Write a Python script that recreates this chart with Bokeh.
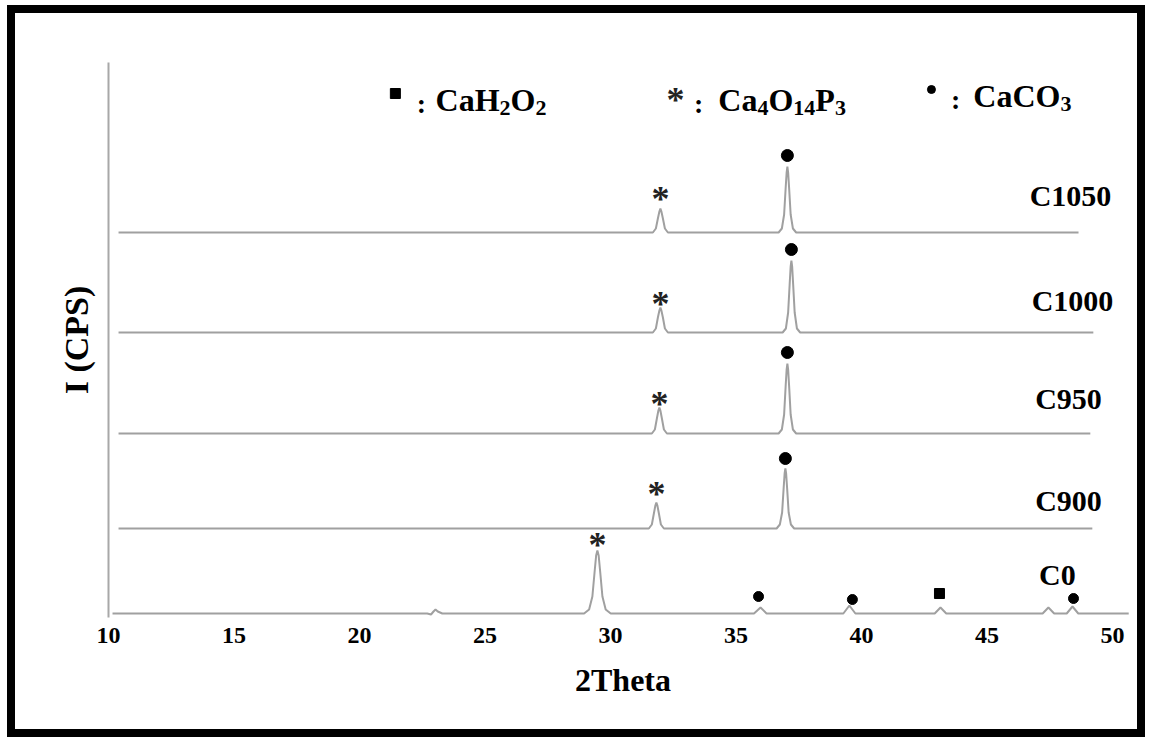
import math
from bokeh.plotting import figure
from bokeh.models import Range1d, FixedTicker, ColumnDataSource
from bokeh.core.properties import value
from bokeh.embed import file_html
from bokeh.resources import INLINE

FONT = "Liberation Serif"

# ---------------- data ----------------
x_ticks = [10, 15, 20, 25, 30, 35, 40, 45, 50]
samples = ["C0", "C900", "C950", "C1000", "C1050"]
offsets = [4, 89, 184, 285, 385]

c0_tt = [10.16, 22.70, 22.85, 22.95, 23.03, 23.12, 23.30, 28.95, 29.15, 29.28, 29.37, 29.43, 29.48,
         29.53, 29.59, 29.68, 29.81, 30.01, 35.72, 35.98, 36.22, 39.28, 39.52, 39.76, 42.92, 43.15,
         43.38, 47.22, 47.45, 47.68, 48.18, 48.41, 48.64, 50.65]
c0_int = [0, 0, -1, 2, 4, 2, 0, 0, 4, 17, 42, 58, 63, 58, 42, 17, 4, 0, 0, 6, 0, 0, 8, 0, 0, 6,
          0, 0, 6, 0, 0, 7, 0, 0]

c900_tt = [10.40, 31.53, 31.65, 31.73, 31.79, 31.83, 31.87, 31.93, 32.01, 32.13, 36.62, 36.75, 36.84,
           36.90, 36.94, 36.97, 37.00, 37.04, 37.10, 37.19, 37.32, 49.20]
c900_int = [0, 0, 4, 15, 23, 26, 23, 15, 4, 0, 0, 4, 16, 40, 55, 60, 55, 40, 16, 4, 0, 0]

c950_tt = [10.40, 31.65, 31.77, 31.85, 31.91, 31.95, 31.99, 32.05, 32.13, 32.25, 36.70, 36.83, 36.92,
           36.98, 37.02, 37.05, 37.08, 37.12, 37.18, 37.27, 37.40, 49.12]
c950_int = [0, 0, 4, 15, 23, 26, 23, 15, 4, 0, 0, 4, 19, 47, 64, 70, 64, 47, 19, 4, 0, 0]

c1000_tt = [10.40, 31.69, 31.81, 31.89, 31.95, 31.99, 32.03, 32.09, 32.17, 32.29, 36.86, 36.99, 37.08,
            37.14, 37.18, 37.21, 37.24, 37.28, 37.34, 37.43, 37.56, 49.24]
c1000_int = [0, 0, 4, 15, 22, 25, 22, 15, 4, 0, 0, 4, 20, 48, 66, 72, 66, 48, 20, 4, 0, 0]

c1050_tt = [10.40, 31.69, 31.81, 31.89, 31.95, 31.99, 32.03, 32.09, 32.17, 32.29, 36.70, 36.83, 36.92,
            36.98, 37.02, 37.05, 37.08, 37.12, 37.18, 37.27, 37.40, 48.65]
c1050_int = [0, 0, 4, 14, 21, 24, 21, 14, 4, 0, 0, 4, 18, 44, 60, 66, 60, 44, 18, 4, 0, 0]

# phase markers (2theta, position on the stacked scale)
star_tt = [29.48, 31.83, 31.95, 31.99, 31.99]          # Ca4O14P3
star_y = [79, 130, 220, 320, 425]
caco3_tt = [35.90, 39.64, 48.45, 36.97, 37.05, 37.21, 37.05]   # CaCO3
caco3_y = [21, 18, 19, 159, 265, 368, 462]
caco3_size = [10, 10, 10, 12, 12, 12, 12]
cah_tt = [43.11]                                         # CaH2O2
cah_y = [24]

# sample label positions
lab_tt = [47.81, 48.25, 48.25, 48.41, 48.33]
lab_y = [43, 117, 219, 317, 422]

# ---------------- figure ----------------
p = figure(width=1138, height=732, output_backend="svg", toolbar_location=None,
           x_range=Range1d(10, 51), y_range=Range1d(0, 555),
           min_border_left=93, min_border_right=16, min_border_top=49, min_border_bottom=128)
p.styles = {"border": "8px solid black", "margin-left": "7px", "margin-top": "5px"}
p.outline_line_color = None
p.xgrid.visible = False
p.ygrid.visible = False
p.background_fill_color = "white"
p.border_fill_color = "white"

p.xaxis.ticker = FixedTicker(ticks=x_ticks)
p.xaxis.axis_line_color = None
p.xaxis.major_tick_line_color = None
p.xaxis.minor_tick_line_color = None
p.xaxis.major_label_text_font = FONT
p.xaxis.major_label_text_font_style = "bold"
p.xaxis.major_label_text_font_size = "24px"
p.xaxis.major_label_text_color = "black"
p.xaxis.major_label_standoff = 4
p.xaxis.axis_label = "2Theta"
p.xaxis.axis_label_text_font = FONT
p.xaxis.axis_label_text_font_style = "bold"
p.xaxis.axis_label_text_font_size = "32px"
p.xaxis.axis_label_text_color = "black"
p.xaxis.axis_label_standoff = 16

p.yaxis.ticker = FixedTicker(ticks=[])
p.yaxis.axis_line_color = "#a8a8a8"
p.yaxis.axis_line_width = 2
p.yaxis.major_tick_line_color = None
p.yaxis.minor_tick_line_color = None
p.yaxis.major_label_text_font_size = "0px"
p.yaxis.axis_label = "I (CPS)"
p.yaxis.axis_label_text_font = FONT
p.yaxis.axis_label_text_font_style = "bold"
p.yaxis.axis_label_text_font_size = "34px"
p.yaxis.axis_label_text_color = "black"
p.yaxis.axis_label_standoff = 14

series = [(c0_tt, c0_int), (c900_tt, c900_int), (c950_tt, c950_int),
          (c1000_tt, c1000_int), (c1050_tt, c1050_int)]
for (tt, inten), off in zip(series, offsets):
    p.line(tt, [v + off for v in inten], line_color="#a0a0a0", line_width=2)

# markers
p.scatter(caco3_tt, caco3_y, size=caco3_size, marker="circle", fill_color="black", line_color="black")
p.scatter(cah_tt, cah_y, size=10, marker="square", fill_color="black", line_color="black")
p.text(star_tt, star_y, text=["*"] * len(star_tt), text_font=value(FONT), text_font_style="bold",
       text_font_size="36px", text_align="center", text_baseline="middle", y_offset=6,
       text_color="#222222")

# sample labels
p.text(lab_tt, lab_y, text=samples, text_font=value(FONT), text_font_style="bold",
       text_font_size="30px", text_align="center", text_baseline="middle", text_color="black")

# ---------------- legend (with subscripts) ----------------
W = {"C": 722, "a": 500, "H": 778, "O": 778, "P": 611}
MAIN, SUB = 32, 22

def seg_width(s, size):
    return sum(W.get(ch, 500) for ch in s) * size / 1000.0

legend_items = [
    ("square", 21.43, 22.47, 23.03, 518, [("CaH", 0), ("2", 1), ("O", 0), ("2", 1)]),
    ("star", 32.59, 33.51, 34.30, 518, [("Ca", 0), ("4", 1), ("O", 0), ("14", 1), ("P", 0), ("3", 1)]),
    ("dot", 42.79, 43.75, 44.46, 522, [("CaCO", 0), ("3", 1)]),
]
main = dict(x=[], y=[], t=[], o=[])
sub = dict(x=[], y=[], t=[], o=[])
for kind, xs, xc, xt, yb, segs in legend_items:
    cur = 0.0
    for s, is_sub in segs:
        d = sub if is_sub else main
        d["x"].append(xt); d["y"].append(yb); d["t"].append(s); d["o"].append(cur)
        cur += seg_width(s, SUB if is_sub else MAIN)
    p.text([xc], [yb], text=[":"], text_font=value(FONT), text_font_style="bold",
           text_font_size="28px", text_align="center", text_baseline="alphabetic", y_offset=4,
           text_color="black")
    if kind == "square":
        p.scatter([xs], [yb + 6], size=10, marker="square", fill_color="black", line_color="black")
    elif kind == "dot":
        p.scatter([xs], [yb + 6], size=8, marker="circle", fill_color="black", line_color="black")
    else:
        p.text([xs], [yb + 6], text=["*"], text_font=value(FONT), text_font_style="bold",
               text_font_size="36px", text_align="center", text_baseline="middle", y_offset=6,
               text_color="#222222")

p.text("x", "y", text="t", x_offset="o", source=ColumnDataSource(main), text_font=value(FONT),
       text_font_style="bold", text_font_size=f"{MAIN}px", text_align="left",
       text_baseline="alphabetic", text_color="black")
p.text("x", "y", text="t", x_offset="o", source=ColumnDataSource(sub), text_font=value(FONT),
       text_font_style="bold", text_font_size=f"{SUB}px", text_align="left",
       text_baseline="alphabetic", y_offset=8, text_color="black")

open("out.html", "w").write(file_html(p, INLINE))
